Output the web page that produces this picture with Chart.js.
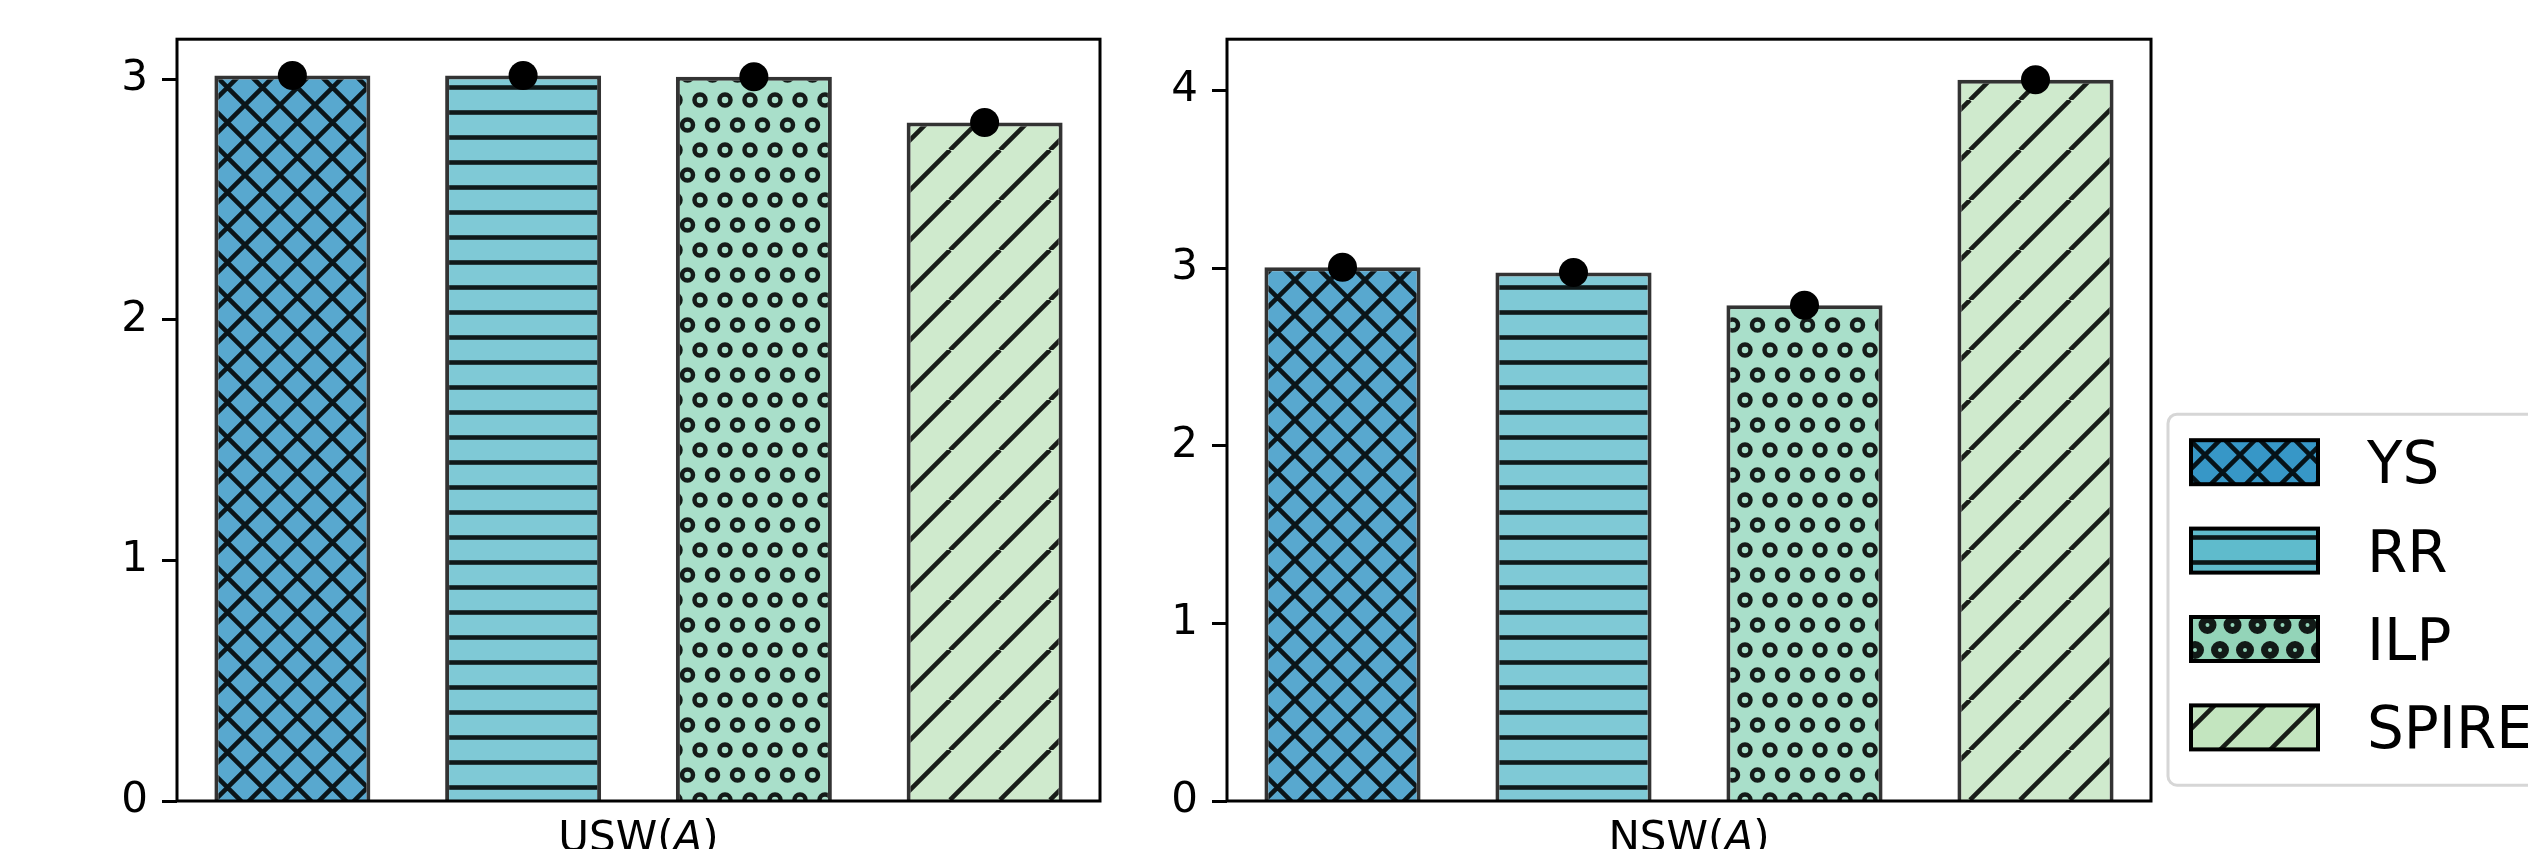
<!DOCTYPE html>
<html>
<head>
<meta charset="utf-8">
<title>USW / NSW</title>
<script src="https://cdn.jsdelivr.net/npm/chart.js@4.4.1/dist/chart.umd.min.js"></script>
<style>
  html, body { margin: 0; padding: 0; background: #fff; }
  body { width: 2528px; height: 849px; position: relative; overflow: hidden; }
  .panel { position: absolute; top: 0; }
  #chartUSW { left: 0; }
  #chartNSW { left: 1120px; }
</style>
</head>
<body>
<canvas id="chartUSW" class="panel" width="1120" height="900"></canvas>
<canvas id="chartNSW" class="panel" width="1408" height="900"></canvas>
<script>
// ===============================
// Dados
// ===============================
const methods = ["YS", "RR", "ILP", "SPIRE"];
const uswValues = [3.015, 3.015, 3.01, 2.82];
const nswValues = [3.005, 2.975, 2.79, 4.06];
const uswTicks = [0, 1, 2, 3];
const nswTicks = [0, 1, 2, 3, 4];
const uswMax = 3.166;
const nswMax = 4.288;
const panelTitles = ["USW", "NSW"];
const barColors = ["#58a8cf", "#7fc9d6", "#a9dfca", "#cfeacd"];
const legendColors = ["#3797c7", "#5fbbcc", "#93d4b8", "#c3e5bf"];
const hatches = ["x", "-", "o", "/"];

const FONT = "DejaVu Sans";

// ===============================
// Hachuras
// ===============================
const makeHatch = (fill, kind, ringWidth) => {
  const tile = document.createElement("canvas");
  const size = { x: [35, 35], "-": [25, 25], o: [25, 50], "/": [50, 50] }[kind];
  tile.width = size[0];
  tile.height = size[1];
  const g = tile.getContext("2d");
  const w = tile.width, h = tile.height;
  g.fillStyle = fill;
  g.fillRect(0, 0, w, h);
  g.strokeStyle = "rgba(0,0,0,0.88)";
  g.lineWidth = 4.6;
  g.beginPath();
  if (kind === "x" || kind === "/") {
    for (let k = -1; k <= 1; k++) {
      g.moveTo(k * w, h);
      g.lineTo(k * w + w, 0);
      if (kind === "x") {
        g.moveTo(k * w, 0);
        g.lineTo(k * w + w, h);
      }
    }
  } else if (kind === "-") {
    g.moveTo(0, h / 2);
    g.lineTo(w, h / 2);
  }
  g.stroke();
  if (kind === "o") {
    g.lineWidth = ringWidth;
    [[0, 0], [w, 0], [0, h], [w, h], [w / 2, h / 2]].forEach(([cx, cy]) => {
      g.beginPath();
      g.arc(cx, cy, 5.5, 0, Math.PI * 2);
      g.stroke();
    });
  }
  return g.createPattern(tile, "repeat");
};

const barPatterns = methods.map((m, i) => makeHatch(barColors[i], hatches[i], 4.5));
const legendPatterns = methods.map((m, i) => makeHatch(legendColors[i], hatches[i], 7));

// ===============================
// Plugins
// ===============================
const frame = {
  id: "frame",
  afterDatasetsDraw(chart) {
    const { ctx, chartArea: a } = chart;
    ctx.save();
    ctx.strokeStyle = "#000";
    ctx.lineWidth = 3;
    ctx.strokeRect(a.left, a.top, a.right - a.left, a.bottom - a.top);
    ctx.restore();
  }
};

const xLabel = {
  id: "xLabel",
  afterDraw(chart, args, opts) {
    const { ctx, chartArea: a } = chart;
    const parts = [
      { t: opts.name + "(", f: `42px "${FONT}"` },
      { t: "A", f: `oblique 42px "${FONT}"` },
      { t: ")", f: `42px "${FONT}"` }
    ];
    ctx.save();
    let total = 0;
    parts.forEach(p => { ctx.font = p.f; p.w = ctx.measureText(p.t).width; total += p.w; });
    let x = (a.left + a.right) / 2 - total / 2;
    ctx.fillStyle = "#000";
    ctx.textBaseline = "alphabetic";
    parts.forEach(p => { ctx.font = p.f; ctx.fillText(p.t, x, a.bottom + opts.offset); x += p.w; });
    ctx.restore();
  }
};

const sideLegend = {
  id: "sideLegend",
  afterDraw(chart, args, opts) {
    if (!opts.show) return;
    const { ctx, chartArea: a } = chart;
    const left = a.right + 17;
    const top = a.top + 375;
    const bottom = a.top + 746;
    const right = chart.width + 30;
    ctx.save();
    ctx.strokeStyle = "#d6d6d6";
    ctx.lineWidth = 3;
    ctx.beginPath();
    ctx.roundRect(left, top, right - left, bottom - top, 9);
    ctx.stroke();
    methods.forEach((m, i) => {
      const cy = a.top + 423 + i * 88.4;
      const px = a.right + 40;
      ctx.fillStyle = legendPatterns[i];
      ctx.fillRect(px, cy - 22, 127, 44);
      ctx.strokeStyle = "#000";
      ctx.lineWidth = 4;
      ctx.strokeRect(px, cy - 22, 127, 44);
      ctx.fillStyle = "#000";
      ctx.font = `58px "${FONT}"`;
      ctx.textBaseline = "alphabetic";
      ctx.fillText(m, a.right + 216, cy + 21);
    });
    ctx.restore();
  }
};

// ===============================
// Gráficos
// ===============================
const buildChart = (canvasId, values, ticks, yMax, name, pad, axisWidth, showLegend) => {
  return new Chart(document.getElementById(canvasId).getContext("2d"), {
    type: "bar",
    data: {
      labels: methods,
      datasets: [
        {
          type: "line",
          data: values,
          showLine: false,
          pointRadius: 14.5,
          pointHoverRadius: 14.5,
          pointBackgroundColor: "#000",
          pointBorderColor: "#000",
          pointBorderWidth: 0,
          order: 1
        },
        {
          data: values,
          backgroundColor: barPatterns,
          borderColor: "rgba(0,0,0,0.8)",
          borderWidth: 4,
          borderSkipped: "start",
          barPercentage: 0.676,
          categoryPercentage: 1,
          order: 2
        }
      ]
    },
    options: {
      responsive: false,
      animation: false,
      events: [],
      layout: { padding: pad },
      plugins: {
        legend: { display: false },
        tooltip: { enabled: false },
        xLabel: { name, offset: 50 },
        sideLegend: { show: showLegend }
      },
      scales: {
        x: {
          offset: true,
          grid: { display: false },
          border: { display: false },
          ticks: { display: false },
          afterFit: s => { s.height = 99; }
        },
        y: {
          min: 0,
          max: yMax,
          grid: {
            drawOnChartArea: false,
            drawTicks: true,
            tickLength: 15,
            tickWidth: 3,
            tickColor: "#000"
          },
          border: { display: false },
          ticks: {
            color: "#000",
            padding: 14,
            font: { family: FONT, size: 42 }
          },
          afterBuildTicks: s => { s.ticks = ticks.map(v => ({ value: v })); },
          afterFit: s => { s.width = axisWidth; }
        }
      }
    },
    plugins: [frame, xLabel, sideLegend]
  });
};

buildChart("chartUSW", uswValues, uswTicks, uswMax, panelTitles[0],
  { left: 57, right: 20, top: 37, bottom: 0 }, 120, false);
buildChart("chartNSW", nswValues, nswTicks, nswMax, panelTitles[1],
  { left: 7, right: 377, top: 37, bottom: 0 }, 100, true);
</script>
</body>
</html>
